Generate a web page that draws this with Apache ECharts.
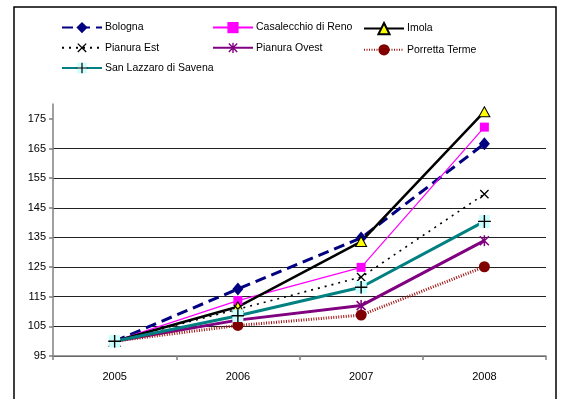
<!DOCTYPE html>
<html>
<head>
<meta charset="utf-8">
<script src="https://cdn.jsdelivr.net/npm/echarts@6/dist/echarts.min.js"></script>
<style>
  html, body { margin: 0; padding: 0; background: #fff; }
  #chart { width: 565px; height: 399px; }
</style>
</head>
<body>
<div id="chart"></div>
<script>
// Index values per district, 2005 = 100
const years = ['2005', '2006', '2007', '2008'];
const bologna = [100, 117.6, 134.8, 166.6];
const casalecchio = [100, 113.7, 124.9, 172.2];
const imola = [100, 111.6, 133.6, 177.4];
const pianuraEst = [100, 110.8, 121.6, 149.6];
const pianuraOvest = [100, 107.1, 112.0, 133.9];
const porretta = [100, 105.3, 108.8, 125.1];
const sanLazzaro = [100, 108.6, 118.2, 140.4];
const yTicks = [95, 105, 115, 125, 135, 145, 155, 165, 175];

// legend columns
const legendCol1 = ['Bologna', 'Pianura Est', 'San Lazzaro di Savena'];
const legendCol2 = ['Casalecchio di Reno', 'Pianura Ovest'];
const legendCol3 = ['Imola', 'Porretta Terme'];

// small SVG marker glyphs
function svgSymbol(body, w, h) {
  const svg = '<svg xmlns="http://www.w3.org/2000/svg" width="' + w + '" height="' + h +
    '" viewBox="0 0 ' + w + ' ' + h + '">' + body + '</svg>';
  return 'image://data:image/svg+xml;charset=utf-8,' + encodeURIComponent(svg);
}
const crossX = svgSymbol('<path d="M1.5 1.5 L10.5 10.5 M10.5 1.5 L1.5 10.5" stroke="#000" stroke-width="1.4"/>', 12, 12);
const asterisk = svgSymbol('<path d="M1.5 1.5 L10.5 10.5 M10.5 1.5 L1.5 10.5 M6 0.5 L6 11.5" stroke="#800080" stroke-width="1.5"/>', 12, 12);
const plusBox = svgSymbol('<rect x="1" y="0" width="11" height="13" fill="#ccffff"/><path d="M6.5 0 L6.5 13 M0 6.5 L13 6.5" stroke="#000" stroke-width="1.4"/>', 13, 13);

const FONT = 'Liberation Sans, Arial, sans-serif';

const chart = echarts.init(document.getElementById('chart'), null, { renderer: 'canvas' });

function lineSeries(name, data, opts) {
  return Object.assign({
    name: name,
    type: 'line',
    data: data,
    showAllSymbol: true,
    animation: false,
    emphasis: { disabled: true }
  }, opts);
}

function legendColumn(items, left) {
  return {
    orient: 'vertical',
    left: left,
    top: 17,
    itemWidth: 40,
    itemHeight: 14,
    itemGap: 9,
    selectedMode: false,
    textStyle: { fontFamily: FONT, fontSize: 10.5, color: '#000', padding: [0, 0, 0, -2] },
    data: items
  };
}

chart.setOption({
  animation: false,
  backgroundColor: '#fff',
  graphic: [{
    type: 'rect',
    shape: { x: 14, y: 7, width: 542, height: 400 },
    style: { fill: 'none', stroke: '#000', lineWidth: 1.5 },
    silent: true,
    z: -1
  }],
  legend: [
    legendColumn(legendCol1, 56),
    legendColumn(legendCol2, 207),
    legendColumn(legendCol3, 358)
  ],
  grid: { left: 53, right: 19, top: 104, bottom: 43, containLabel: false },
  xAxis: {
    type: 'category',
    data: years,
    boundaryGap: true,
    axisLine: { lineStyle: { color: '#808080', width: 1.5 } },
    axisTick: { show: true, alignWithLabel: false, length: 4, lineStyle: { color: '#808080', width: 1.5 } },
    axisLabel: { fontFamily: FONT, fontSize: 11, color: '#000', margin: 15 },
    splitLine: { show: false }
  },
  yAxis: {
    type: 'value',
    min: 95,
    max: 180,
    interval: 10,
    axisLine: { show: true, lineStyle: { color: '#808080', width: 1.5 } },
    axisTick: { show: true, length: 4, lineStyle: { color: '#808080', width: 1.5 }, customValues: yTicks },
    axisLabel: { fontFamily: FONT, fontSize: 11, color: '#000', margin: 7, customValues: yTicks },
    splitLine: { show: true, showMaxLine: false, lineStyle: { color: '#222', width: 1 } }
  },
  series: [
    lineSeries('Bologna', bologna, {
      color: '#000080',
      symbol: 'diamond', symbolSize: [11, 13],
      itemStyle: { color: '#000080' },
      lineStyle: { color: '#000080', width: 3, type: [11, 6] }
    }),
    lineSeries('Casalecchio di Reno', casalecchio, {
      color: '#ff00ff',
      symbol: 'rect', symbolSize: 9,
      itemStyle: { color: '#ff00ff' },
      lineStyle: { color: '#ff00ff', width: 1.2 }
    }),
    lineSeries('Imola', imola, {
      color: '#000',
      symbol: 'triangle', symbolSize: [11, 10],
      itemStyle: { color: '#ffff00', borderColor: '#000', borderWidth: 1 },
      lineStyle: { color: '#000', width: 2.5 }
    }),
    lineSeries('Pianura Est', pianuraEst, {
      color: '#000',
      symbol: crossX, symbolSize: 11,
      itemStyle: { color: '#000' },
      lineStyle: { color: '#000', width: 1.6, type: [2, 5] }
    }),
    lineSeries('Pianura Ovest', pianuraOvest, {
      color: '#800080',
      symbol: asterisk, symbolSize: 12,
      itemStyle: { color: '#800080' },
      lineStyle: { color: '#800080', width: 3 }
    }),
    lineSeries('Porretta Terme', porretta, {
      color: '#800000',
      symbol: 'circle', symbolSize: 11,
      itemStyle: { color: '#800000' },
      lineStyle: { color: '#a01010', width: 3, type: [1, 1.5] }
    }),
    lineSeries('San Lazzaro di Savena', sanLazzaro, {
      color: '#008080',
      symbol: plusBox, symbolSize: 13,
      itemStyle: { color: '#008080' },
      lineStyle: { color: '#008080', width: 3 }
    })
  ]
});
</script>
</body>
</html>
